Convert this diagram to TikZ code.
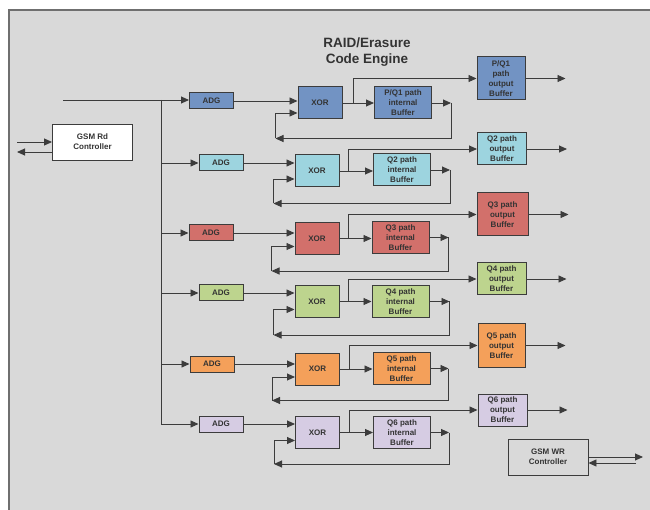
\documentclass[tikz,border=0pt]{standalone}
\usepackage{fontspec}
\setmainfont{Liberation Sans}
\usepackage{xcolor}
\definecolor{DarkGrey}{HTML}{333333}
\definecolor{LineGrey}{HTML}{3C3C3C}
\definecolor{PanelGrey}{HTML}{D9D9D9}
\definecolor{EdgeGrey}{HTML}{6F6F6F}
\definecolor{PQBlue}{HTML}{7293C3}
\definecolor{QCyan}{HTML}{9DD4DF}
\definecolor{QRed}{HTML}{D2706B}
\definecolor{QGreen}{HTML}{BDD48E}
\definecolor{QOrange}{HTML}{F4A05A}
\definecolor{QLilac}{HTML}{D6CCE3}
\usepackage{tikz}
\usetikzlibrary{calc,arrows,arrows.meta,positioning}
\newcommand\AdgWidth{44pt}
\newcommand\AdgHeight{16pt}
\newcommand\XorWidth{44pt}
\newcommand\BoxHeight{32pt}
\newcommand\BufWidth{57pt}
\newcommand\OutWidth{49pt}
\newcommand\LoopIn{8pt}
\tikzstyle{block}=[rectangle,draw=LineGrey,line width=1pt,inner sep=0pt,
                   align=center,text=DarkGrey,font=\fontsize{8}{10}\selectfont\bfseries]
\tikzstyle{adg}=[block,minimum width=\AdgWidth,minimum height=\AdgHeight]
\tikzstyle{xorbox}=[block,minimum width=\XorWidth,minimum height=\BoxHeight]
\tikzstyle{buffer}=[block,minimum width=\BufWidth,minimum height=\BoxHeight]
\tikzstyle{outbuf}=[block,minimum width=\OutWidth,minimum height=\BoxHeight]
\tikzstyle{ctrl}=[block,line width=0.9pt,minimum width=80pt,minimum height=36pt]
\tikzstyle{wire}=[draw=LineGrey,line width=0.9pt]
\tikzstyle{flow}=[wire,-{Triangle[length=8pt,width=7pt]}]

\begin{document}
\begin{tikzpicture}[x=1pt,y=-1pt]
      \useasboundingbox (0,0) rectangle (650,510);
      \draw[draw=EdgeGrey,line width=2.5pt,fill=PanelGrey] (9,10) rectangle (670,530);
      \node[font=\fontsize{13.5}{16}\selectfont\bfseries,align=center,text=DarkGrey] (title) at (367,52) {RAID/Erasure\\Code Engine};
      % controllers
      \node[ctrl,fill=white] (rd) at (92.5,142) {GSM Rd\\Controller};
      \node[ctrl,fill=PanelGrey] (wr) at (548,457) {GSM WR\\Controller};
      \coordinate (rdin) at (17,142);
      \coordinate (rdout) at (17,152);
      \draw[flow] (rdin) -- (rdin -| rd.west);
      \draw[flow] (rdout -| rd.west) -- (rdout);
      \coordinate (wrout) at (643,457);
      \coordinate (wrin) at (636,463);
      \draw[flow] (wrout -| wr.east) -- (wrout);
      \draw[flow] (wrin) -- (wrin -| wr.east);
      % P/Q1 path
      \node[adg,fill=PQBlue] (adg1) at (211.5,101) {ADG};
      \node[xorbox,fill=PQBlue] (xor1) at (320,103) {XOR};
      \node[buffer,fill=PQBlue] (int1) at (403,103) {P/Q1 path\\internal\\Buffer};
      \node[outbuf,fill=PQBlue,minimum height=43pt,minimum width=48pt] (out1) at (501,78.5) {P/Q1\\path\\output\\Buffer};
      % Q2 path
      \node[adg,fill=QCyan] (adg2) at (221,163) {ADG};
      \node[xorbox,fill=QCyan] (xor2) at (317,171) {XOR};
      \node[buffer,fill=QCyan] (int2) at (402,170) {Q2 path\\internal\\Buffer};
      \node[outbuf,fill=QCyan] (out2) at (502,149) {Q2 path\\output\\Buffer};
      % Q3 path
      \node[adg,fill=QRed] (adg3) at (211,233) {ADG};
      \node[xorbox,fill=QRed] (xor3) at (317,238.5) {XOR};
      \node[buffer,fill=QRed] (int3) at (400.5,237.5) {Q3 path\\internal\\Buffer};
      \node[outbuf,fill=QRed,minimum height=43pt,minimum width=51pt] (out3) at (502.5,214.5) {Q3 path\\output\\Buffer};
      % Q4 path
      \node[adg,fill=QGreen] (adg4) at (221,293) {ADG};
      \node[xorbox,fill=QGreen] (xor4) at (317,301.5) {XOR};
      \node[buffer,fill=QGreen] (int4) at (400.5,301.5) {Q4 path\\internal\\Buffer};
      \node[outbuf,fill=QGreen] (out4) at (501.5,279) {Q4 path\\output\\Buffer};
      % Q5 path
      \node[adg,fill=QOrange] (adg5) at (212,364) {ADG};
      \node[xorbox,fill=QOrange] (xor5) at (317.5,369) {XOR};
      \node[buffer,fill=QOrange] (int5) at (401.5,368.5) {Q5 path\\internal\\Buffer};
      \node[outbuf,fill=QOrange,minimum height=43pt,minimum width=47pt] (out5) at (501.5,345.5) {Q5 path\\output\\Buffer};
      % Q6 path
      \node[adg,fill=QLilac] (adg6) at (221,424) {ADG};
      \node[xorbox,fill=QLilac] (xor6) at (317.5,432.5) {XOR};
      \node[buffer,fill=QLilac] (int6) at (402,432.5) {Q6 path\\internal\\Buffer};
      \node[outbuf,fill=QLilac] (out6) at (502.5,410) {Q6 path\\output\\Buffer};
      % input bus
      \coordinate (in) at (63,100);
      \coordinate (bustop) at (161,100);
      \coordinate (busbot) at (161,424);
      \draw[flow] (in) -- (in -| adg1.west);
      \draw[wire] (bustop) -- (busbot);
      \draw[flow] (bustop |- adg2) -- (adg2.west);
      \draw[flow] (bustop |- adg3) -- (adg3.west);
      \draw[flow] (bustop |- adg4) -- (adg4.west);
      \draw[flow] (bustop |- adg5) -- (adg5.west);
      \draw[flow] (busbot) -- (adg6.west);
      % P/Q1 connections
      \draw[flow] (adg1.east) -- (adg1.east -| xor1.west);
      \draw[flow] (xor1.east) -- (xor1.east -| int1.west);
      \draw[flow] ($(xor1.east)+(11,0)$) |- (out1.west);
      \draw[flow] (out1.east) -- ++(40,0) coordinate (o1);
      \draw[flow] (int1.east) -- ++(19,0) coordinate (lr1);
      \coordinate (lb1) at ($(xor1.south west)+(-22,19)$);
      \draw[flow] (lr1) |- (lb1);
      \draw[flow] (lb1) |- ([yshift=-\LoopIn-2pt]xor1.west);
      % Q2 connections
      \draw[flow] (adg2.east) -- (adg2.east -| xor2.west);
      \draw[flow] (xor2.east) -- (xor2.east -| int2.west);
      \draw[flow] ($(xor2.east)+(9,0)$) |- (out2.west);
      \draw[flow] (out2.east) -- ++(40,0) coordinate (o2);
      \draw[flow] (int2.east) -- ++(19,0) coordinate (lr2);
      \coordinate (lb2) at ($(xor2.south west)+(-21,16)$);
      \draw[flow] (lr2) |- (lb2);
      \draw[flow] (lb2) |- ([yshift=-\LoopIn]xor2.west);
      % Q3 connections
      \draw[flow] (adg3.east) -- (adg3.east -| xor3.west);
      \draw[flow] (xor3.east) -- (xor3.east -| int3.west);
      \draw[flow] ($(xor3.east)+(9,0)$) |- (out3.west);
      \draw[flow] (out3.east) -- ++(40,0) coordinate (o3);
      \draw[flow] (int3.east) -- ++(19,0) coordinate (lr3);
      \coordinate (lb3) at ($(xor3.south west)+(-23,16)$);
      \draw[flow] (lr3) |- (lb3);
      \draw[flow] (lb3) |- ([yshift=-\LoopIn]xor3.west);
      % Q4 connections
      \draw[flow] (adg4.east) -- (adg4.east -| xor4.west);
      \draw[flow] (xor4.east) -- (xor4.east -| int4.west);
      \draw[flow] ($(xor4.east)+(9,0)$) |- (out4.west);
      \draw[flow] (out4.east) -- ++(40,0) coordinate (o4);
      \draw[flow] (int4.east) -- ++(20,0) coordinate (lr4);
      \coordinate (lb4) at ($(xor4.south west)+(-21,17)$);
      \draw[flow] (lr4) |- (lb4);
      \draw[flow] (lb4) |- ([yshift=-\LoopIn]xor4.west);
      % Q5 connections
      \draw[flow] (adg5.east) -- (adg5.east -| xor5.west);
      \draw[flow] (xor5.east) -- (xor5.east -| int5.west);
      \draw[flow] ($(xor5.east)+(9,0)$) |- (out5.west);
      \draw[flow] (out5.east) -- ++(40,0) coordinate (o5);
      \draw[flow] (int5.east) -- ++(18,0) coordinate (lr5);
      \coordinate (lb5) at ($(xor5.south west)+(-23,15)$);
      \draw[flow] (lr5) |- (lb5);
      \draw[flow] (lb5) |- ([yshift=-\LoopIn]xor5.west);
      % Q6 connections
      \draw[flow] (adg6.east) -- (adg6.east -| xor6.west);
      \draw[flow] (xor6.east) -- (xor6.east -| int6.west);
      \draw[flow] ($(xor6.east)+(9,0)$) |- (out6.west);
      \draw[flow] (out6.east) -- ++(40,0) coordinate (o6);
      \draw[flow] (int6.east) -- ++(18,0) coordinate (lr6);
      \coordinate (lb6) at ($(xor6.south west)+(-21,15)$);
      \draw[flow] (lr6) |- (lb6);
      \draw[flow] (lb6) |- ([yshift=-\LoopIn]xor6.west);
   \end{tikzpicture}
\end{document}
